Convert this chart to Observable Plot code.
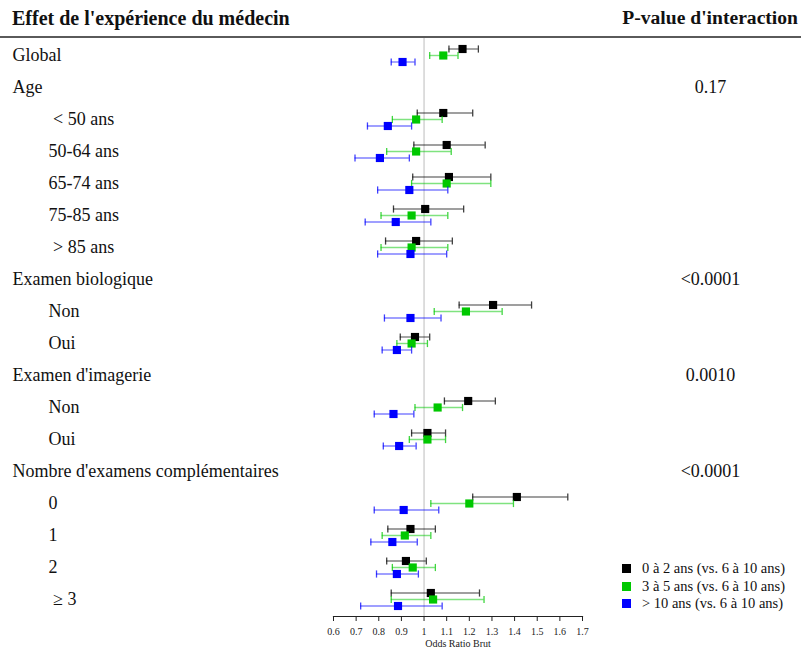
<!DOCTYPE html>
<html>
<head>
<meta charset="utf-8">
<script src="https://cdn.jsdelivr.net/npm/d3@7"></script>
<script src="https://cdn.jsdelivr.net/npm/@observablehq/plot@0.6"></script>
<style>
  html, body { margin: 0; padding: 0; background: #fff; }
  #wrap { position: relative; width: 801px; height: 649px; font-family: "Liberation Serif", serif; overflow: hidden; }
  #header { position: relative; height: 36px; border-bottom: 2px solid #5a5a5a; }
  #title { position: absolute; left: 12px; top: 7px; font-size: 20px; font-weight: bold; line-height: 22px; color: #111; }
  #phead { position: absolute; right: 3px; top: 7px; font-size: 19.6px; font-weight: bold; line-height: 22px; color: #111; }
  #chart svg { display: block; }
  #chart svg, #chart svg text { font-family: "Liberation Serif", serif !important; }
  #legend { position: absolute; left: 622px; top: 560px; font-size: 14.5px; color: #111; font-family: "Liberation Serif", serif; }
  #legend .item { display: flex; align-items: center; height: 17.5px; }
  #legend .sw { width: 9px; height: 9px; margin-right: 11px; }
</style>
</head>
<body>
<div id="wrap">
  <div id="header"><span id="title"></span><span id="phead"></span></div>
  <div id="chart"></div>
  <div id="legend"></div>
</div>
<script>
// ---- Data ----
const titleText = "Effet de l'expérience du médecin";
const pHeaderText = "P-value d'interaction";

const rowKeys = ["global","age","age50m","age50","age65","age75","age85","bio","bioNon","bioOui","img","imgNon","imgOui","nb","nb0","nb1","nb2","nb3"];
const rowLabels = ["Global","Age","\u00a0< 50 ans","50-64 ans","65-74 ans","75-85 ans","\u00a0> 85 ans","Examen biologique","Non","Oui","Examen d'imagerie","Non","Oui","Nombre d'examens complémentaires","0","1","2","\u00a0≥ 3"];
const rowLevel = [0,0,1,1,1,1,1,0,1,1,0,1,1,0,1,1,1,1];

const pRows = ["age","bio","img","nb"];
const pValues = ["0.17","<0.0001","0.0010","<0.0001"];

const dataRowKeys = ["global","age50m","age50","age65","age75","age85","bioNon","bioOui","imgNon","imgOui","nb0","nb1","nb2","nb3"];

const seriesNames = ["0 à 2 ans (vs. 6 à 10 ans)","3 à 5 ans (vs. 6 à 10 ans)","> 10 ans (vs. 6 à 10 ans)"];
const seriesColors = ["#000000","#00c800","#0000ff"];

const estBlack = [1.17, 1.085, 1.10, 1.11, 1.005, 0.965, 1.305, 0.96, 1.195, 1.015, 1.41, 0.94, 0.92, 1.03];
const loBlack  = [1.11, 0.97, 0.955, 0.95, 0.865, 0.83, 1.155, 0.895, 1.09, 0.945, 1.215, 0.84, 0.835, 0.855];
const hiBlack  = [1.24, 1.215, 1.27, 1.295, 1.175, 1.125, 1.475, 1.025, 1.315, 1.095, 1.635, 1.05, 1.01, 1.245];

const estGreen = [1.085, 0.965, 0.965, 1.10, 0.945, 0.945, 1.185, 0.945, 1.06, 1.015, 1.20, 0.915, 0.95, 1.04];
const loGreen  = [1.025, 0.86, 0.835, 0.945, 0.81, 0.81, 1.045, 0.88, 0.96, 0.935, 1.03, 0.815, 0.86, 0.855];
const hiGreen  = [1.15, 1.08, 1.12, 1.295, 1.105, 1.105, 1.345, 1.015, 1.17, 1.095, 1.395, 1.03, 1.05, 1.265];

const estBlue = [0.905, 0.84, 0.805, 0.935, 0.875, 0.94, 0.94, 0.88, 0.865, 0.89, 0.91, 0.86, 0.88, 0.885];
const loBlue  = [0.855, 0.75, 0.695, 0.795, 0.74, 0.795, 0.825, 0.815, 0.78, 0.82, 0.78, 0.765, 0.79, 0.72];
const hiBlue  = [0.96, 0.945, 0.935, 1.105, 1.03, 1.10, 1.075, 0.945, 0.955, 0.965, 1.065, 0.97, 0.975, 1.08];

const xTicks = [0.6, 0.7, 0.8, 0.9, 1, 1.1, 1.2, 1.3, 1.4, 1.5, 1.6, 1.7];
const xLabel = "Odds Ratio Brut";

// ---- Build tables ----
const estAll = [estBlack, estGreen, estBlue];
const loAll = [loBlack, loGreen, loBlue];
const hiAll = [hiBlack, hiGreen, hiBlue];
const seriesData = seriesNames.map((s, i) => dataRowKeys.map((k, j) => ({
  row: k, series: s, est: estAll[i][j], lo: loAll[i][j], hi: hiAll[i][j]
})));
const rows = rowKeys.map((k, i) => ({key: k, label: rowLabels[i], level: rowLevel[i]}));
const pTable = pRows.map((k, i) => ({key: k, p: pValues[i]}));

const seriesDy = [-6.5, 0, 6.5];
const capSymbol = {
  draw(ctx, size) {
    const h = Math.sqrt(size / Math.PI);
    ctx.moveTo(0, -h);
    ctx.lineTo(0, h);
  }
};

const seriesMarks = seriesData.flatMap((d, i) => [
  Plot.ruleY(d, {y: "row", x1: "lo", x2: "hi", dy: seriesDy[i], stroke: seriesColors[i], strokeOpacity: 0.5, strokeWidth: 1.4}),
  Plot.dot(d, {y: "row", x: "lo", dy: seriesDy[i], symbol: capSymbol, r: 3.6, fill: "none", stroke: seriesColors[i], strokeOpacity: 0.75, strokeWidth: 1.3}),
  Plot.dot(d, {y: "row", x: "hi", dy: seriesDy[i], symbol: capSymbol, r: 3.6, fill: "none", stroke: seriesColors[i], strokeOpacity: 0.75, strokeWidth: 1.3}),
  Plot.dot(d, {y: "row", x: "est", dy: seriesDy[i], symbol: "square", r: 4.6, fill: seriesColors[i], stroke: "none"})
]);

const chart = Plot.plot({
  width: 801,
  height: 611,
  marginLeft: 333,
  marginRight: 219,
  marginTop: 0,
  marginBottom: 33,
  style: {fontFamily: "Liberation Serif", background: "white", color: "#222"},
  x: {domain: [0.6, 1.7]},
  y: {type: "point", domain: rowKeys, padding: 0, insetTop: 15, insetBottom: 15, axis: null},
  marks: [
    Plot.ruleX([1], {stroke: "#c8c8c8", strokeWidth: 1.2}),
    Plot.frame({anchor: "bottom", stroke: "#222", strokeWidth: 1.2}),
    Plot.axisX({
      ticks: xTicks,
      tickFormat: d => String(+d.toFixed(1)),
      tickSize: 5,
      tickPadding: 6,
      fontSize: 10,
      stroke: "#222",
      label: xLabel,
      labelAnchor: "center",
      labelOffset: 30,
      labelArrow: "none"
    }),
    ...seriesMarks,
    Plot.text(rows.filter(r => r.level === 0), {y: "key", text: "label", frameAnchor: "left", dx: -321, textAnchor: "start", fontSize: 18, fontFamily: "Liberation Serif", fill: "#111"}),
    Plot.text(rows.filter(r => r.level === 1), {y: "key", text: "label", frameAnchor: "left", dx: -285, textAnchor: "start", fontSize: 18, fontFamily: "Liberation Serif", fill: "#111"}),
    Plot.text(pTable, {y: "key", text: "p", frameAnchor: "right", dx: 128, textAnchor: "middle", fontSize: 18, fontFamily: "Liberation Serif", fill: "#111"})
  ]
});

document.getElementById("chart").appendChild(chart);
document.getElementById("title").textContent = titleText;
document.getElementById("phead").textContent = pHeaderText;

const legend = document.getElementById("legend");
seriesNames.forEach((s, i) => {
  const item = document.createElement("div");
  item.className = "item";
  const sw = document.createElement("span");
  sw.className = "sw";
  sw.style.background = seriesColors[i];
  const t = document.createElement("span");
  t.textContent = s;
  item.appendChild(sw);
  item.appendChild(t);
  legend.appendChild(item);
});
</script>
</body>
</html>
